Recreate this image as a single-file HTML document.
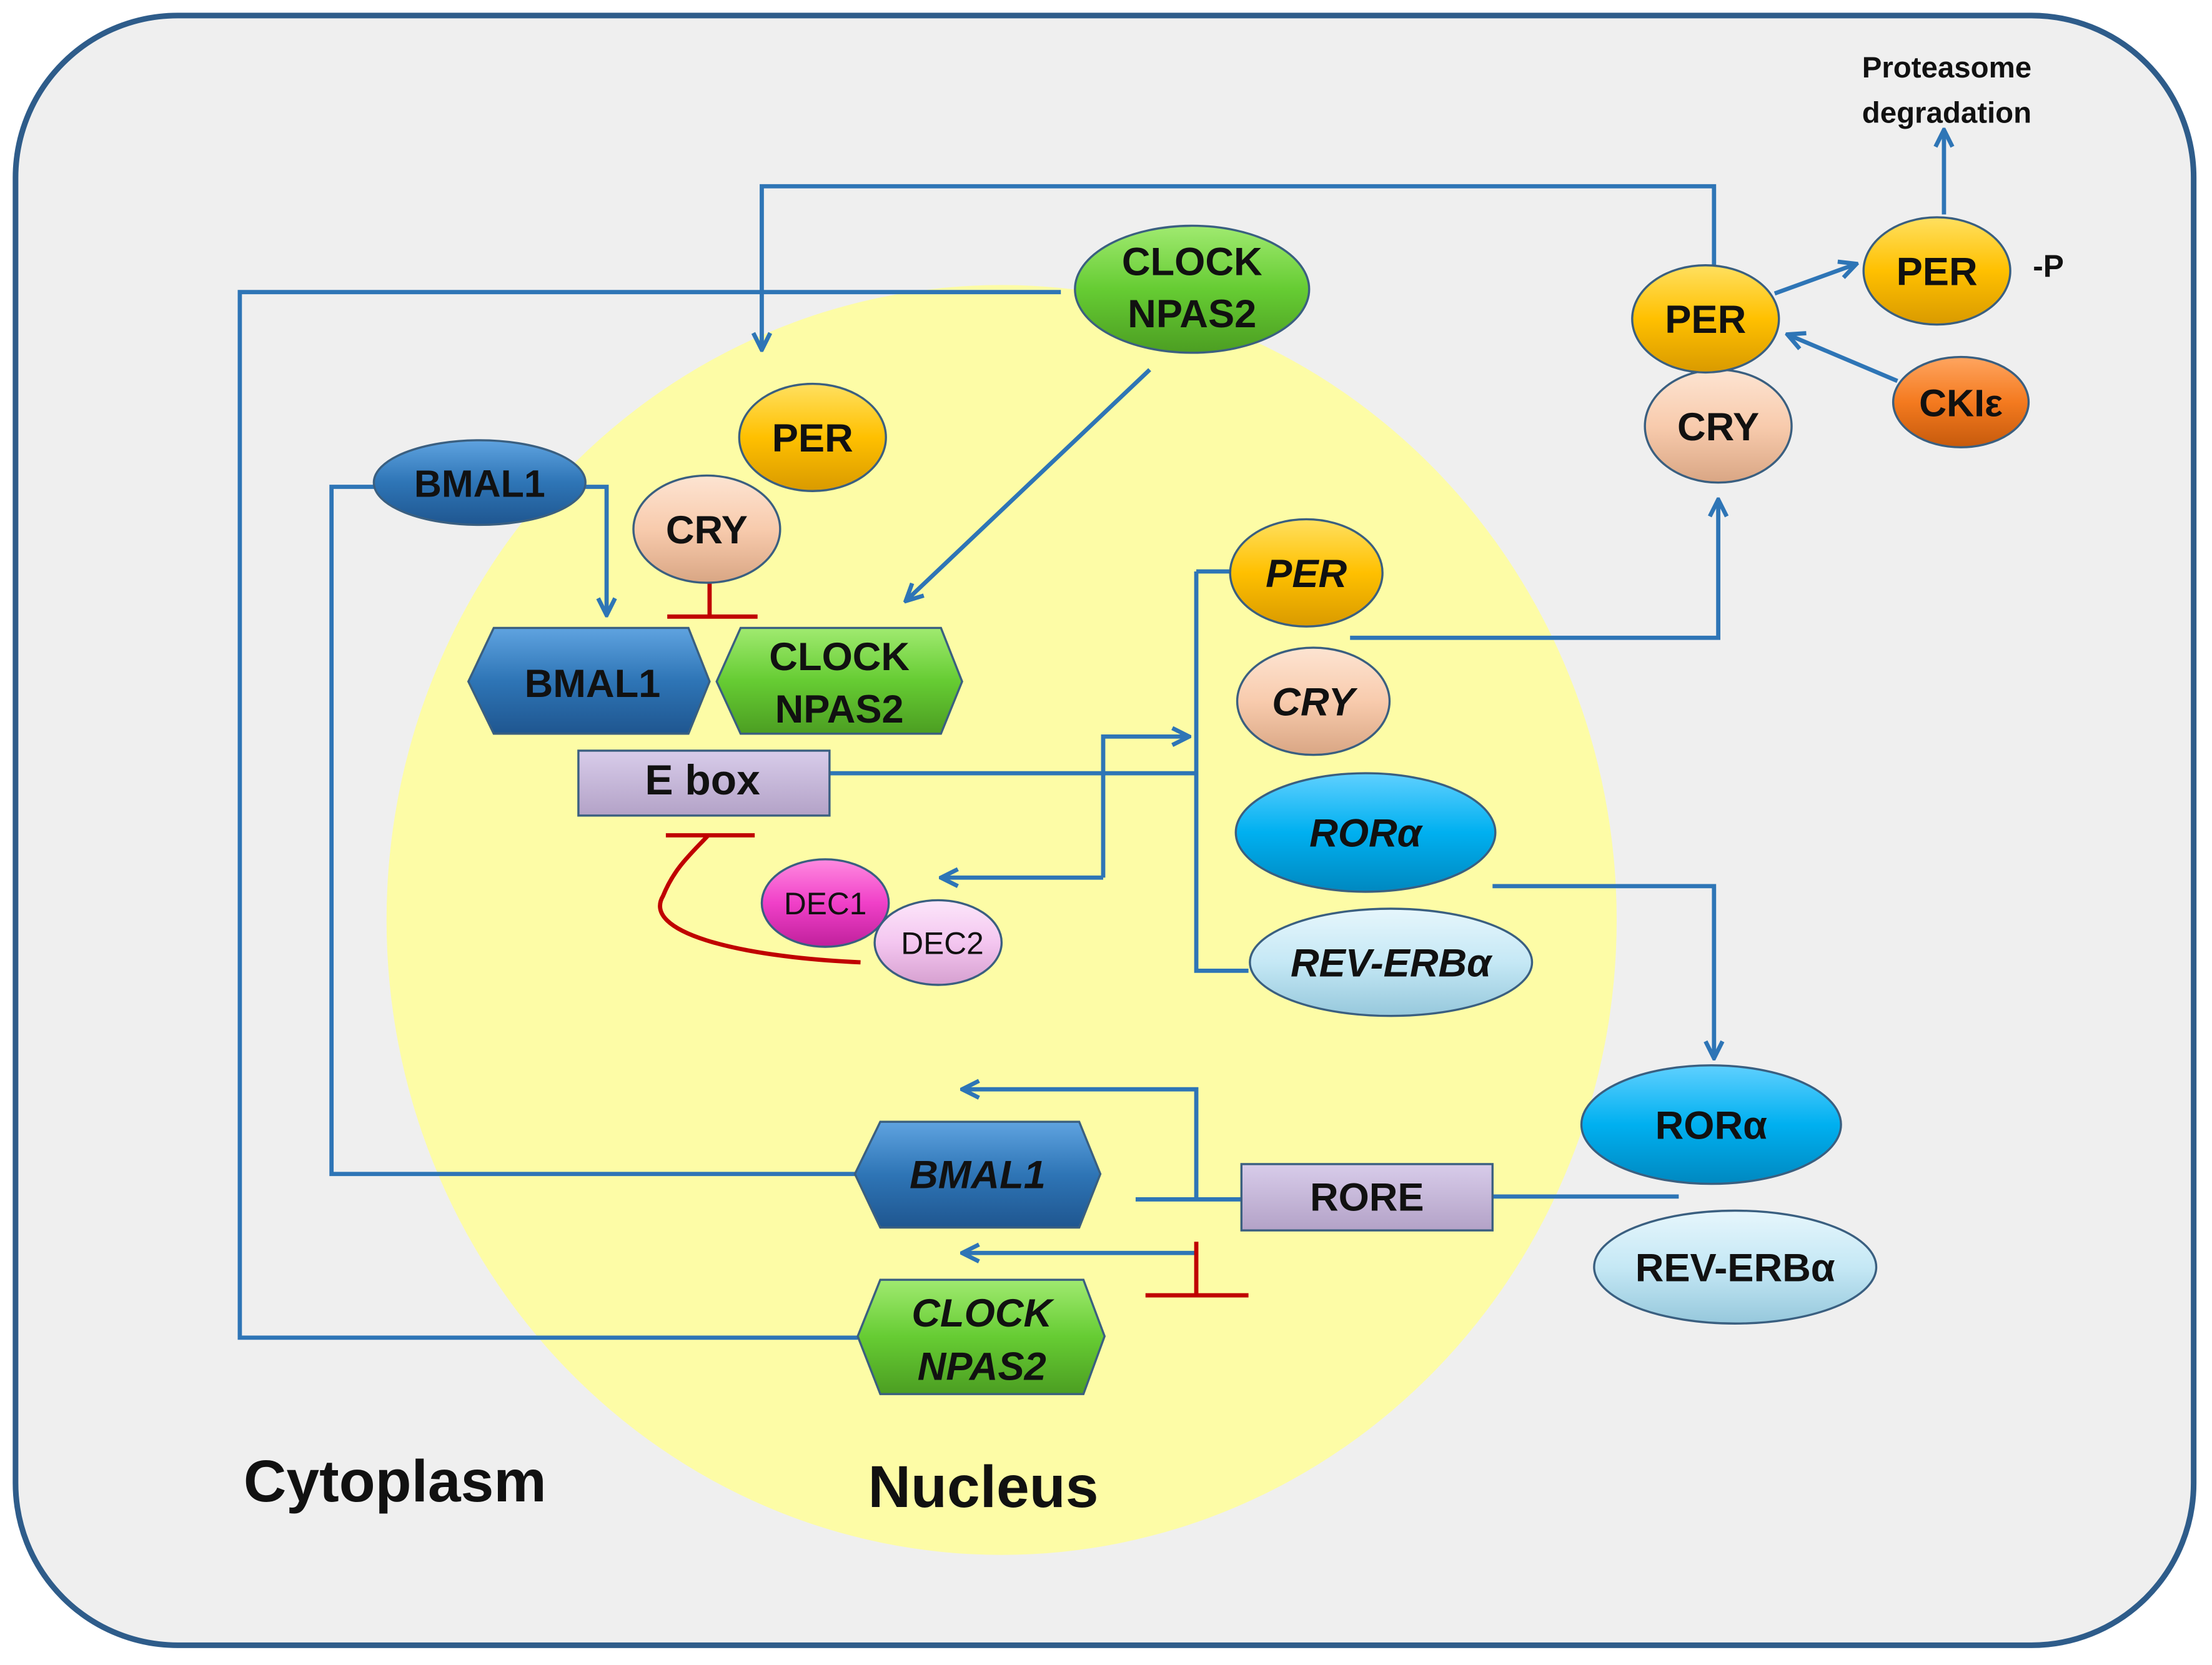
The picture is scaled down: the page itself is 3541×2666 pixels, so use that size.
<!DOCTYPE html>
<html><head><meta charset="utf-8"><style>html,body{margin:0;padding:0;background:#fff}svg{display:block}</style></head><body>
<svg width="3541" height="2666" viewBox="0 0 1568 1180" preserveAspectRatio="none" xmlns="http://www.w3.org/2000/svg" font-family="Liberation Sans, DejaVu Sans, sans-serif" font-weight="bold">
<defs>
<linearGradient id="gY" x1="0" y1="0" x2="0" y2="1"><stop offset="0" stop-color="#ffe060"/><stop offset="0.5" stop-color="#ffc000"/><stop offset="1" stop-color="#d99a00"/></linearGradient>
<linearGradient id="gP" x1="0" y1="0" x2="0" y2="1"><stop offset="0" stop-color="#fde4d2"/><stop offset="0.5" stop-color="#f8cbad"/><stop offset="1" stop-color="#d9a684"/></linearGradient>
<linearGradient id="gG" x1="0" y1="0" x2="0" y2="1"><stop offset="0" stop-color="#a0ea70"/><stop offset="0.5" stop-color="#66cc33"/><stop offset="1" stop-color="#4c9e22"/></linearGradient>
<linearGradient id="gB" x1="0" y1="0" x2="0" y2="1"><stop offset="0" stop-color="#5fa3e0"/><stop offset="0.5" stop-color="#2e75b6"/><stop offset="1" stop-color="#1f5690"/></linearGradient>
<linearGradient id="gC" x1="0" y1="0" x2="0" y2="1"><stop offset="0" stop-color="#5fd0ff"/><stop offset="0.5" stop-color="#00b0f0"/><stop offset="1" stop-color="#0088c0"/></linearGradient>
<linearGradient id="gL" x1="0" y1="0" x2="0" y2="1"><stop offset="0" stop-color="#e6f6fc"/><stop offset="0.5" stop-color="#c5e8f5"/><stop offset="1" stop-color="#96c8dc"/></linearGradient>
<linearGradient id="gO" x1="0" y1="0" x2="0" y2="1"><stop offset="0" stop-color="#ffa560"/><stop offset="0.5" stop-color="#f47a1f"/><stop offset="1" stop-color="#c65a0c"/></linearGradient>
<linearGradient id="gM" x1="0" y1="0" x2="0" y2="1"><stop offset="0" stop-color="#ff8ae0"/><stop offset="0.5" stop-color="#f040c8"/><stop offset="1" stop-color="#c0209c"/></linearGradient>
<linearGradient id="gK" x1="0" y1="0" x2="0" y2="1"><stop offset="0" stop-color="#fce6fa"/><stop offset="0.5" stop-color="#f4c6f0"/><stop offset="1" stop-color="#d6a0d0"/></linearGradient>
<linearGradient id="gV" x1="0" y1="0" x2="0" y2="1"><stop offset="0" stop-color="#d8ccea"/><stop offset="1" stop-color="#b3a2c7"/></linearGradient>
<marker id="ar" viewBox="0 0 10 10" refX="9" refY="5" markerWidth="5" markerHeight="5" orient="auto-start-reverse"><path d="M1,1 L9,5 L1,9" fill="none" stroke="#2e75b6" stroke-width="2"/></marker>
</defs>
<rect x="0" y="0" width="1568" height="1180" fill="#fff"/>
<rect x="11" y="11" width="1544" height="1155" rx="115" fill="#efefef" stroke="#2e5c8a" stroke-width="4"/>
<ellipse cx="710" cy="652" rx="436" ry="450" fill="#fdfca6"/>

<g fill="none" stroke="#2e75b6" stroke-width="3">
<path d="M1215,190 V132 H540 V248" marker-end="url(#ar)"/>
<path d="M752,207 H170 V948 H608"/>
<path d="M815,262 L642,426" marker-end="url(#ar)"/>
<path d="M415,345 H430 V436" marker-end="url(#ar)"/>
<path d="M265,345 H235 V832 H606"/>
<path d="M588,548 H848"/>
<path d="M848,405 H877 M848,405 V688 H885"/>
<path d="M782,622 V522 H843" marker-end="url(#ar)"/>
<path d="M782,622 H667" marker-end="url(#ar)"/>
<path d="M957,452 H1218 V354" marker-end="url(#ar)"/>
<path d="M1058,628 H1215 V750" marker-end="url(#ar)"/>
<path d="M1258,208 L1316,187" marker-end="url(#ar)"/>
<path d="M1345,270 L1267,237" marker-end="url(#ar)"/>
<path d="M1378,152 V92" marker-end="url(#ar)"/>
<path d="M1058,848 H1190"/>
<path d="M805,850 H880"/>
<path d="M848,850 V772 H682" marker-end="url(#ar)"/>
<path d="M848,888 H682" marker-end="url(#ar)"/>
</g>
<g fill="none" stroke="#c00000" stroke-width="3">
<path d="M503,413 V437 M473,437 H537"/>
<path d="M848,880 V918 M812,918 H885"/>
<path d="M610,682 C520,678 455,660 470,635 C478,615 490,605 502,592 M472,592 H535"/>
</g>

<g stroke="#3a5f80" stroke-width="1.5">
<ellipse cx="845" cy="205" rx="83" ry="45" fill="url(#gG)"/>
<ellipse cx="576" cy="310" rx="52" ry="38" fill="url(#gY)"/>
<ellipse cx="501" cy="375" rx="52" ry="38" fill="url(#gP)"/>
<ellipse cx="340" cy="342" rx="75" ry="30" fill="url(#gB)"/>
<polygon points="350,445 488,445 503,483 488,520 350,520 332,483" fill="url(#gB)"/>
<polygon points="525,445 667,445 682,483 667,520 525,520 508,483" fill="url(#gG)"/>
<rect x="410" y="532" width="178" height="46" fill="url(#gV)"/>
<ellipse cx="585" cy="640" rx="45" ry="31" fill="url(#gM)"/>
<ellipse cx="665" cy="668" rx="45" ry="30" fill="url(#gK)"/>
<ellipse cx="926" cy="406" rx="54" ry="38" fill="url(#gY)"/>
<ellipse cx="931" cy="497" rx="54" ry="38" fill="url(#gP)"/>
<ellipse cx="968" cy="590" rx="92" ry="42" fill="url(#gC)"/>
<ellipse cx="986" cy="682" rx="100" ry="38" fill="url(#gL)"/>
<ellipse cx="1218" cy="302" rx="52" ry="40" fill="url(#gP)"/>
<ellipse cx="1209" cy="226" rx="52" ry="38" fill="url(#gY)"/>
<ellipse cx="1373" cy="192" rx="52" ry="38" fill="url(#gY)"/>
<ellipse cx="1390" cy="285" rx="48" ry="32" fill="url(#gO)"/>
<ellipse cx="1213" cy="797" rx="92" ry="42" fill="url(#gC)"/>
<ellipse cx="1230" cy="898" rx="100" ry="40" fill="url(#gL)"/>
<polygon points="624,795 765,795 780,832 765,870 624,870 606,832" fill="url(#gB)"/>
<polygon points="624,907 768,907 783,947 768,988 624,988 608,947" fill="url(#gG)"/>
<rect x="880" y="825" width="178" height="47" fill="url(#gV)"/>
</g>

<g fill="#111" text-anchor="middle" font-size="28">
<text x="845" y="195">CLOCK</text><text x="845" y="232">NPAS2</text>
<text x="576" y="320">PER</text>
<text x="501" y="385">CRY</text>
<text x="340" y="352" font-size="27">BMAL1</text>
<text x="420" y="494">BMAL1</text>
<text x="595" y="475">CLOCK</text><text x="595" y="512">NPAS2</text>
<text x="498" y="563" font-size="30">E box</text>
<text x="585" y="648" font-size="22" font-weight="normal">DEC1</text>
<text x="668" y="676" font-size="22" font-weight="normal">DEC2</text>
<g font-style="italic">
<text x="926" y="416">PER</text>
<text x="931" y="507">CRY</text>
<text x="968" y="600">RORα</text>
<text x="986" y="692">REV-ERBα</text>
<text x="693" y="842">BMAL1</text>
<text x="696" y="940">CLOCK</text><text x="696" y="978">NPAS2</text>
</g>
<text x="1209" y="236">PER</text>
<text x="1218" y="312">CRY</text>
<text x="1373" y="202">PER</text>
<text x="1452" y="196" font-size="22">-P</text>
<text x="1390" y="295" font-size="27">CKIε</text>
<text x="1213" y="807">RORα</text>
<text x="1230" y="908">REV-ERBα</text>
<text x="969" y="858">RORE</text>
<text x="1380" y="55" font-size="21">Proteasome</text>
<text x="1380" y="87" font-size="21">degradation</text>
<text x="280" y="1064" font-size="42">Cytoplasm</text>
<text x="697" y="1068" font-size="42">Nucleus</text>
</g>
</svg>
</body></html>
